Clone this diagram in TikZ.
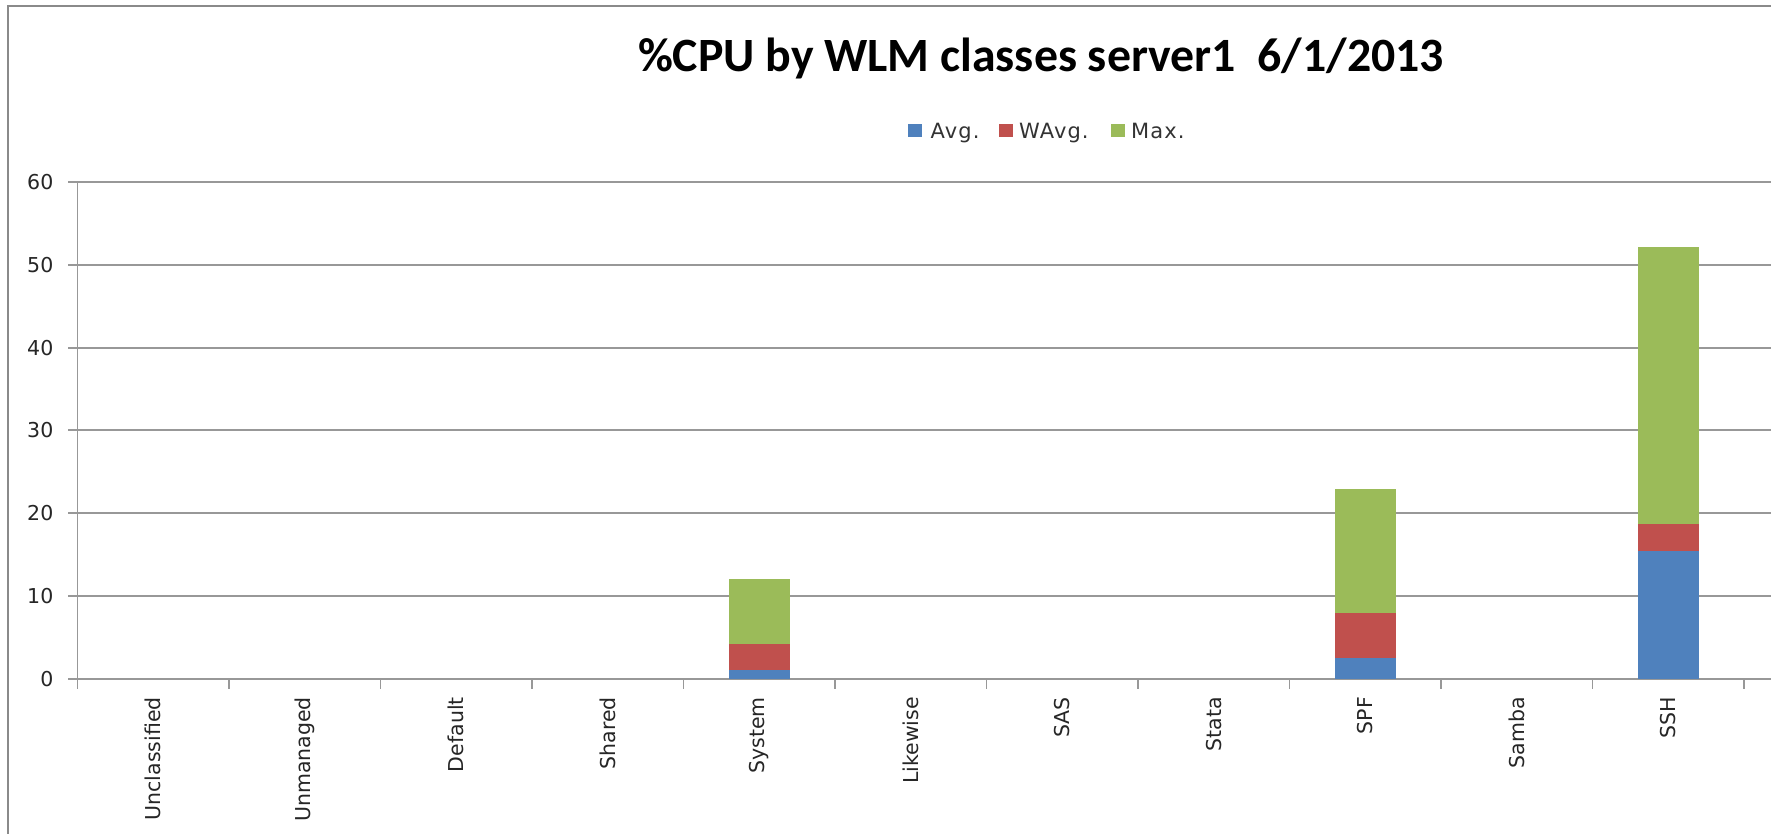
\documentclass[tikz,border=0pt]{standalone}
\usepackage{fontspec}
\setmainfont{DejaVu Sans}
\newfontfamily\titlefont{Carlito}
\newfontfamily\legfont[LetterSpace=5]{DejaVu Sans}
\definecolor{xblue}{HTML}{4F81BD}
\definecolor{xred}{HTML}{C0504D}
\definecolor{xgreen}{HTML}{9BBB59}
\definecolor{gridgray}{HTML}{989898}
\definecolor{framegray}{HTML}{8A8A8A}
\tikzset{
  gridline/.style={draw=gridgray, line width=2pt},
  axisline/.style={draw=gridgray, line width=1.6pt},
  ticklabel/.style={font=\fontsize{20.5}{24}\selectfont, text=black!85, inner sep=0pt},
  catlabel/.style={font=\fontsize{20.5}{24}\selectfont, text=black!85, inner sep=0pt, rotate=90, anchor=east},
  legendtext/.style={font=\legfont\fontsize{21}{24}\selectfont, text=black!80, inner sep=0pt, anchor=base west},
  legendkey/.style={inner sep=0pt, minimum width=14pt, minimum height=13pt, anchor=west},
}
\begin{document}
\begin{tikzpicture}[x=1pt,y=-1pt]
\useasboundingbox (0,0) rectangle (1771,834);
\fill[white] (0,0) rectangle (1771,834);
% chart frame (only top and left visible)
\draw[framegray, line width=2pt] (8,840) -- (8,6) -- (1775,6);
% title
\node[inner sep=0pt, anchor=base] (title) at (1041,71.7)
  {\titlefont\bfseries\fontsize{47.8}{52}\selectfont \%CPU by WLM classes server1\ \ 6/1/2013};
% legend
\node[legendkey, fill=xblue] (kavg) at (908,130.5) {};
\node[legendtext] (tavg) at (930.5,138.5) {Avg.};
\node[legendkey, fill=xred] (kwavg) at (999,130.5) {};
\node[legendtext] (twavg) at (1019,138.5) {WAvg.};
\node[legendkey, fill=xgreen] (kmax) at (1111,130.5) {};
\node[legendtext] (tmax) at (1131,138.5) {Max.};
% gridlines and y labels
\foreach \v in {0,10,...,60} {
  \draw[gridline] (68,{678.8-8.28*\v}) -- (1771,{678.8-8.28*\v});
  \node[ticklabel, anchor=east] (y\v) at (53.5,{678.8-8.28*\v}) {\v};
}
% y axis
\draw[axisline] (77.5,181.9) -- (77.5,689);
% x ticks
\foreach \k in {1,...,11} {
  \draw[axisline] ({77.5+151.5*\k},678.8) -- ({77.5+151.5*\k},689);
}
% category labels
\foreach \name [count=\i] in {Unclassified,Unmanaged,Default,Shared,System,Likewise,SAS,Stata,SPF,Samba,SSH} {
  \node[catlabel] (c\i) at ({77.5+151.5*(\i-0.5)},697) {\name};
}
% bars: category index, blue top, red top, green top
\foreach \c/\b/\r/\g in {5/1.1/4.2/12.0, 9/2.5/7.9/22.9, 11/15.4/18.7/52.1} {
  \pgfmathsetmacro{\cx}{77.5+151.5*(\c-0.5)}
  \fill[xblue] ({\cx-30.5},678.8) rectangle ({\cx+30.5},{678.8-8.28*\b});
  \fill[xred] ({\cx-30.5},{678.8-8.28*\b}) rectangle ({\cx+30.5},{678.8-8.28*\r});
  \fill[xgreen] ({\cx-30.5},{678.8-8.28*\r}) rectangle ({\cx+30.5},{678.8-8.28*\g});
}
\end{tikzpicture}
\end{document}
